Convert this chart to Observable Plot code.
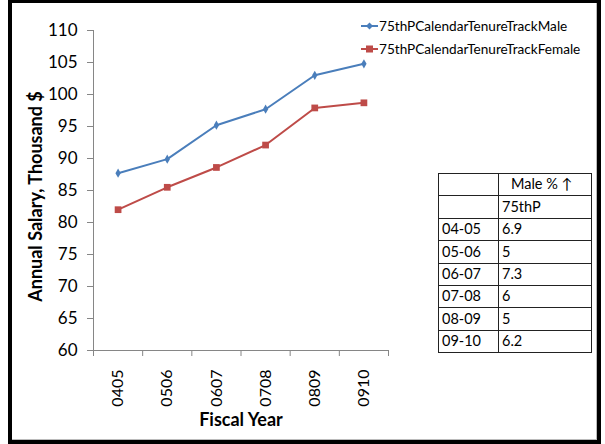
<!DOCTYPE html>
<html>
<head>
<meta charset="utf-8">
<script src="https://cdn.jsdelivr.net/npm/d3@7"></script>
<script src="https://cdn.jsdelivr.net/npm/@observablehq/plot@0.6"></script>
<style>
  html, body { margin: 0; padding: 0; background: #fff; }
  body { width: 605px; height: 444px; position: relative; overflow: hidden; font-family: Lato, "Open Sans", sans-serif; }
  #frame { position: absolute; left: 8px; top: -1px; width: 585px; height: 437px; border: 4px solid #000; }
  #inner { position: absolute; left: 12px; top: 3px; width: 584px; height: 436px; border-right: 1px solid #bbb; border-bottom: 1px solid #bbb; }
  #chart { position: absolute; left: 0; top: 0; }
  #legend { position: absolute; left: 361px; top: 14px; font-size: 13.6px; color: #000; }
  #legend .row { height: 23px; display: flex; align-items: center; white-space: nowrap; }
  #legend svg { margin-right: 0px; }
  #tbl { position: absolute; left: 438px; top: 173px; border-collapse: collapse; font-size: 14.5px; color: #000; }
  #tbl td { border: 1px solid #222; height: 22.4px; padding: 0 0 0 3px; box-sizing: border-box; line-height: 1; }
  #tbl td.c0 { width: 60px; }
  #tbl td.c1 { width: 93px; }
  #tbl td.hd { padding-left: 12px; }
</style>
</head>
<body>
<div id="chart"></div>
<div id="inner"></div>
<div id="frame"></div>
<div id="legend"></div>
<table id="tbl"></table>
<script>
const categories = ["0405", "0506", "0607", "0708", "0809", "0910"];
const maleValues = [87.7, 89.9, 95.2, 97.7, 103.0, 104.8];
const femaleValues = [82.0, 85.5, 88.6, 92.1, 97.9, 98.7];
const seriesNames = ["75thPCalendarTenureTrackMale", "75thPCalendarTenureTrackFemale"];
const seriesColors = ["#4A7EBB", "#BE4B48"];
const yTicks = [60, 65, 70, 75, 80, 85, 90, 95, 100, 105, 110];
const tableHeader = ["Male % \u2191", "75thP"];
const tableYears = ["04-05", "05-06", "06-07", "07-08", "08-09", "09-10"];
const tableValues = ["6.9", "5", "7.3", "6", "5", "6.2"];

const male = categories.map((c, i) => ({i, c, v: maleValues[i]}));
const female = categories.map((c, i) => ({i, c, v: femaleValues[i]}));
const bounds = d3.range(categories.length + 1);
const centers = categories.map((c, i) => i + 0.5);
const axisGray = "#868686";

const chart = Plot.plot({
  width: 605,
  height: 444,
  marginLeft: 93,
  marginRight: 217,
  marginTop: 30,
  marginBottom: 94,
  style: {fontFamily: "Lato, 'Open Sans', sans-serif", background: "transparent", overflow: "visible"},
  x: {type: "linear", domain: [0, categories.length]},
  y: {domain: [60, 110]},
  marks: [
    Plot.ruleX([0], {stroke: axisGray}),
    Plot.ruleY([60], {stroke: axisGray}),
    Plot.axisY({ticks: yTicks, tickSize: 6, text: null, stroke: axisGray, label: null}),
    Plot.axisY({ticks: yTicks, tickSize: 0, tickPadding: 16, fontSize: 17, fill: "#000", label: null}),
    Plot.axisX({ticks: bounds, tickSize: 6, text: null, stroke: axisGray, label: null}),
    Plot.axisX({ticks: centers, tickSize: 0, tickPadding: 19, tickRotate: -90, fontSize: 16, fill: "#000",
      tickFormat: d => categories[Math.floor(d)], label: null}),
    Plot.line(male, {x: d => d.i + 0.5, y: "v", stroke: seriesColors[0], strokeWidth: 2}),
    Plot.dot(male, {x: d => d.i + 0.5, y: "v", symbol: "diamond", r: 2.8, fill: seriesColors[0]}),
    Plot.line(female, {x: d => d.i + 0.5, y: "v", stroke: seriesColors[1], strokeWidth: 2}),
    Plot.dot(female, {x: d => d.i + 0.5, y: "v", symbol: "square", r: 3.8, fill: seriesColors[1]}),
    Plot.text(["Annual Salary, Thousand $"], {frameAnchor: "left", textAnchor: "middle", rotate: -90, dx: -57, dy: 6,
      fontSize: 18, fontWeight: "bold", fill: "#000"}),
    Plot.text(["Fiscal Year"], {frameAnchor: "bottom", dy: 75, fontSize: 18, fontWeight: "bold", fill: "#000"})
  ]
});
document.getElementById("chart").appendChild(chart);

// legend
const legend = d3.select("#legend");
seriesNames.forEach((name, k) => {
  const row = legend.append("div").attr("class", "row");
  const svg = row.append("svg").attr("width", 18).attr("height", 10);
  svg.append("line").attr("x1", 0).attr("x2", 17).attr("y1", 5).attr("y2", 5)
    .attr("stroke", seriesColors[k]).attr("stroke-width", 2);
  if (k === 0) {
    svg.append("path").attr("d", "M8.5,1.5L12,5L8.5,8.5L5,5Z").attr("fill", seriesColors[k]);
  } else {
    svg.append("rect").attr("x", 5).attr("y", 1.5).attr("width", 7).attr("height", 7).attr("fill", seriesColors[k]);
  }
  row.append("span").text(name);
});

// table
const tbl = d3.select("#tbl");
const hr1 = tbl.append("tr");
hr1.append("td").attr("class", "c0");
hr1.append("td").attr("class", "c1 hd").text(tableHeader[0]);
const hr2 = tbl.append("tr");
hr2.append("td").attr("class", "c0");
hr2.append("td").attr("class", "c1").text(tableHeader[1]);
tableYears.forEach((y, i) => {
  const r = tbl.append("tr");
  r.append("td").attr("class", "c0").text(y);
  r.append("td").attr("class", "c1").text(tableValues[i]);
});
</script>
</body>
</html>
